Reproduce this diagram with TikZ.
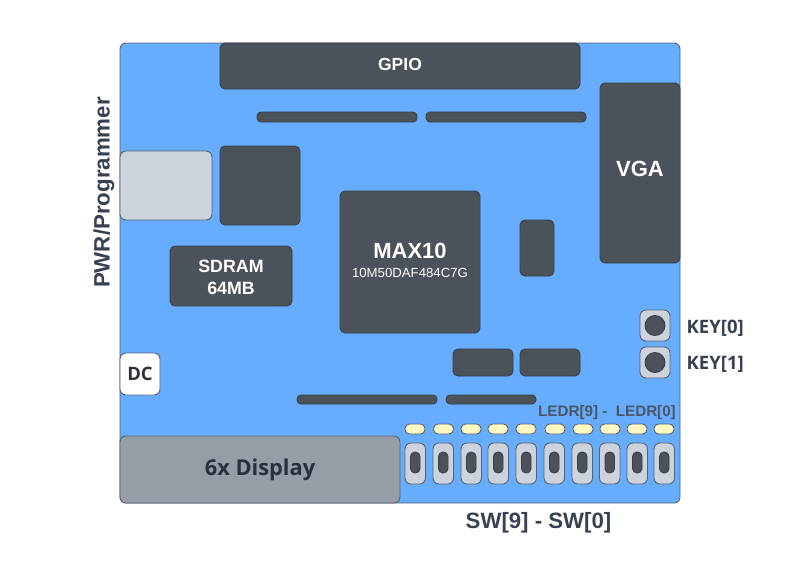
\documentclass[tikz,border=0pt]{standalone}
\usepackage{fontspec}
\setmainfont{Liberation Sans}
\newfontfamily\opensans{Open Sans}
\definecolor{boardblue}{HTML}{66ADFF}
\definecolor{chipdark}{HTML}{4B5259}
\definecolor{edgegray}{HTML}{5A6270}
\definecolor{chipedge}{HTML}{3A4048}
\definecolor{lightpart}{HTML}{CDD3DC}
\definecolor{displaygray}{HTML}{979DA7}
\definecolor{ledyellow}{HTML}{FEF9C3}
\definecolor{labeltext}{HTML}{374151}
\definecolor{darktext}{HTML}{2A303C}
\definecolor{ledrtext}{HTML}{4B5563}
\tikzset{
  part/.style={anchor=north west,inner sep=0pt,outer sep=0pt,align=center,line width=0.9pt},
  chip/.style={part,draw=chipedge,fill=chipdark,rounded corners=5pt},
  strip/.style={chip,rounded corners=4pt},
  lightbox/.style={part,draw=edgegray,fill=lightpart,rounded corners=6pt},
  ledlamp/.style={part,draw=edgegray,fill=ledyellow,rounded corners=4.5pt,minimum width=20pt,minimum height=10pt},
  swbody/.style={part,draw=edgegray,fill=lightpart,rounded corners=6pt,minimum width=20.5pt,minimum height=41pt},
  swknob/.style={strip,rounded corners=4.5pt,minimum width=9.5pt,minimum height=21pt},
  keybody/.style={lightbox,minimum width=30pt,minimum height=31pt},
  keyknob/.style={circle,draw=chipedge,fill=chipdark,inner sep=0pt,minimum size=20pt,line width=0.9pt},
  outlabel/.style={text=labeltext,inner sep=0pt},
  chiplabel/.style={text=white,inner sep=0pt,align=center}
}
\begin{document}
\begin{tikzpicture}[x=1pt,y=-1pt]
\useasboundingbox (0,0) rectangle (800,566);
\fill[white] (0,0) rectangle (800,566);
\node[part,draw=edgegray,fill=boardblue,rounded corners=6pt,minimum width=560pt,minimum height=460pt] (board) at (120,43) {};
\node[chip,minimum width=360pt,minimum height=46pt] (gpio) at (220,43) {};
\node[chiplabel,font=\fontsize{17.5}{19}\selectfont\bfseries] (gpiolabel) at (400,64.5) {GPIO};
\node[strip,minimum width=160pt,minimum height=10pt] (stripa) at (257,112) {};
\node[strip,minimum width=160pt,minimum height=10pt] (stripb) at (426,112) {};
\node[chip,minimum width=80pt,minimum height=180pt] (vga) at (600,83) {};
\node[chiplabel,font=\fontsize{22}{24}\selectfont\bfseries] (vgalabel) at (640,168.5) {VGA};
\node[lightbox,minimum width=92pt,minimum height=69pt] (usb) at (120,151) {};
\node[chip,minimum width=80pt,minimum height=79pt] (square) at (220,146) {};
\node[chip,minimum width=140pt,minimum height=142pt] (max) at (340,191) {};
\node[chiplabel,font=\fontsize{22}{24}\selectfont\bfseries] (maxname) at (410,251) {MAX10};
\node[chiplabel,font=\fontsize{13.2}{15}\selectfont] (maxpart) at (410,273) {10M50DAF484C7G};
\node[chip,minimum width=34pt,minimum height=56pt] (small) at (520,220) {};
\node[chip,minimum width=122pt,minimum height=60pt] (sdram) at (170,246) {};
\node[chiplabel,font=\fontsize{17.8}{21.5}\selectfont\bfseries] (sdramlabel) at (231,277.5) {SDRAM\\64MB};
\node[keybody] (keya) at (640,310) {};
\node[keyknob] (knoba) at (655,325.5) {};
\node[keybody] (keyb) at (640,347) {};
\node[keyknob] (knobb) at (655,362.5) {};
\node[outlabel,anchor=west,font=\opensans\fontsize{18.5}{20}\selectfont\bfseries] (keyalabel) at (686.5,328) {KEY[0]};
\node[outlabel,anchor=west,font=\opensans\fontsize{18.5}{20}\selectfont\bfseries] (keyblabel) at (686.5,364.5) {KEY[1]};
\node[chip,minimum width=60pt,minimum height=27pt] (paira) at (453,349) {};
\node[chip,minimum width=60pt,minimum height=27pt] (pairb) at (520,349) {};
\node[strip,minimum width=140pt,minimum height=9pt] (stripc) at (297,395) {};
\node[strip,minimum width=90pt,minimum height=9pt] (stripd) at (446,395) {};
\node[lightbox,draw=edgegray,fill=white,minimum width=40pt,minimum height=42pt,text=darktext,font=\opensans\fontsize{18.5}{20}\selectfont\bfseries] (dc) at (120,353) {DC};
\node[part,draw=edgegray,fill=displaygray,rounded corners=6pt,minimum width=280pt,minimum height=67pt,text=darktext,font=\opensans\fontsize{21.8}{24}\selectfont\bfseries] (display) at (120,436) {6x Display};
\foreach \n/\x in {9/405,8/433.5,7/461,6/488,5/516,4/545,3/573,2/600,1/627,0/654}{
  \node[ledlamp] (led\n) at (\x,424) {};
}
\foreach \n/\x in {9/405,8/433,7/461,6/488,5/516,4/544,3/572,2/599.5,1/627,0/654}{
  \node[swbody] (sw\n) at (\x,443) {};
  \node[swknob] (knob\n) at (\x+5.5,452) {};
}
\node[text=ledrtext,font=\fontsize{15.2}{17}\selectfont\bfseries,inner sep=0pt] (ledrlabel) at (607,412.5) {LEDR[9] -\ \ LEDR[0]};
\node[outlabel,font=\fontsize{22.2}{24}\selectfont\bfseries] (swlabel) at (538.5,523) {SW[9] - SW[0]};
\node[outlabel,rotate=90,font=\fontsize{22.3}{24}\selectfont\bfseries] (pwrlabel) at (104,192.5) {PWR/Programmer};
\end{tikzpicture}
\end{document}
